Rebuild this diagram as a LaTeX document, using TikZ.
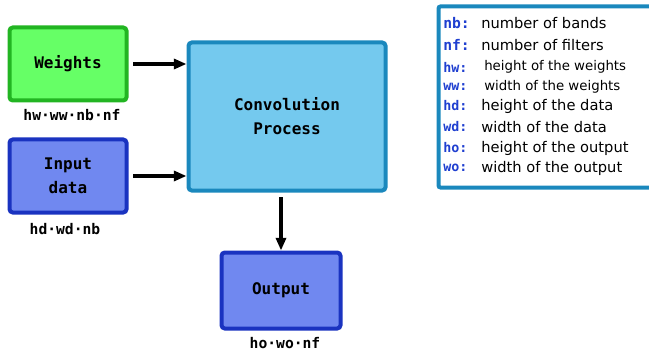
\documentclass[tikz,border=0pt]{standalone}
\usepackage{fontspec}
\setmainfont{DejaVu Sans}
\newfontfamily\monofam{DejaVu Sans Mono}
\usetikzlibrary{arrows.meta}
\definecolor{wfill}{HTML}{66FF66}
\definecolor{wdraw}{HTML}{22B522}
\definecolor{ifill}{HTML}{7088F0}
\definecolor{idraw}{HTML}{1A33C0}
\definecolor{cfill}{HTML}{74C9EE}
\definecolor{cdraw}{HTML}{1A88BD}
\definecolor{keyc}{HTML}{1F3FD0}
\tikzset{
  blk/.style={draw, line width=3pt, rounded corners=2.5pt, align=center,
    font=\monofam\bfseries\fontsize{12}{18}\selectfont, inner sep=0pt},
  dimlab/.style={font=\monofam\bfseries\fontsize{11}{13}\selectfont, inner sep=0pt},
  arr/.style={line width=3pt, -{Triangle[length=9.5pt,width=7.5pt]}},
  keyt/.style={anchor=west, inner sep=0pt, font=\monofam\bfseries\fontsize{11}{13}\selectfont, text=keyc},
  keys/.style={anchor=west, inner sep=0pt, font=\monofam\bfseries\fontsize{10}{12}\selectfont, text=keyc},
  dsc/.style={anchor=west, inner sep=0pt, font=\fontsize{11}{13}\selectfont},
  dscs/.style={anchor=west, inner sep=0pt, font=\fontsize{10}{12}\selectfont}
}
\begin{document}
\begin{tikzpicture}[x=0.75pt,y=-0.75pt]
\useasboundingbox (0,0) rectangle (649,356);
\node[blk, fill=wfill, draw=wdraw, minimum width=117*0.75pt, minimum height=73*0.75pt] (w) at (68,64) {Weights};
\node[blk, fill=ifill, draw=idraw, minimum width=117*0.75pt, minimum height=73*0.75pt] (i) at (68,176) {Input\\data};
\node[blk, fill=cfill, draw=cdraw, minimum width=197*0.75pt, minimum height=148*0.75pt] (c) at (287,116.5) {Convolution\\Process};
\node[blk, fill=ifill, draw=idraw, minimum width=119*0.75pt, minimum height=76*0.75pt] (o) at (281,290.5) {Output};
\node[dimlab] (wl) at (72,115) {hw·ww·nb·nf};
\node[dimlab] (il) at (65,229) {hd·wd·nb};
\node[dimlab] (ol) at (285,343) {ho·wo·nf};
\coordinate (wa) at (133,64);
\coordinate (ia) at (133,176);
\coordinate (ca) at (281,197);
\draw[arr] (wa) -- (wa -| c.west);
\draw[arr] (ia) -- (ia -| c.west);
\draw[arr] (ca) -- (o.north);
\node[draw=cdraw, line width=3pt, rounded corners=1.5pt, minimum width=217*0.75pt, minimum height=181*0.75pt, inner sep=0pt] (lg) at (547,97) {};
\node[keyt] (k1) at (443,23) {nb:};
\node[dsc] (d1) at (481,23) {number of bands};
\node[keyt] (k2) at (443,45) {nf:};
\node[dsc] (d2) at (481,45) {number of filters};
\node[keys] (k3) at (443,67) {hw:};
\node[dscs] (d3) at (484,67) {height of the weights};
\node[keys] (k4) at (443,87) {ww:};
\node[dscs] (d4) at (484,87) {width of the weights};
\node[keys] (k5) at (443,106) {hd:};
\node[dsc] (d5) at (481,106) {height of the data};
\node[keys] (k6) at (443,127) {wd:};
\node[dsc] (d6) at (481,127) {width of the data};
\node[keys] (k7) at (443,148) {ho:};
\node[dsc] (d7) at (481,148) {height of the output};
\node[keys] (k8) at (443,168) {wo:};
\node[dsc] (d8) at (481,168) {width of the output};
\end{tikzpicture}
\end{document}
